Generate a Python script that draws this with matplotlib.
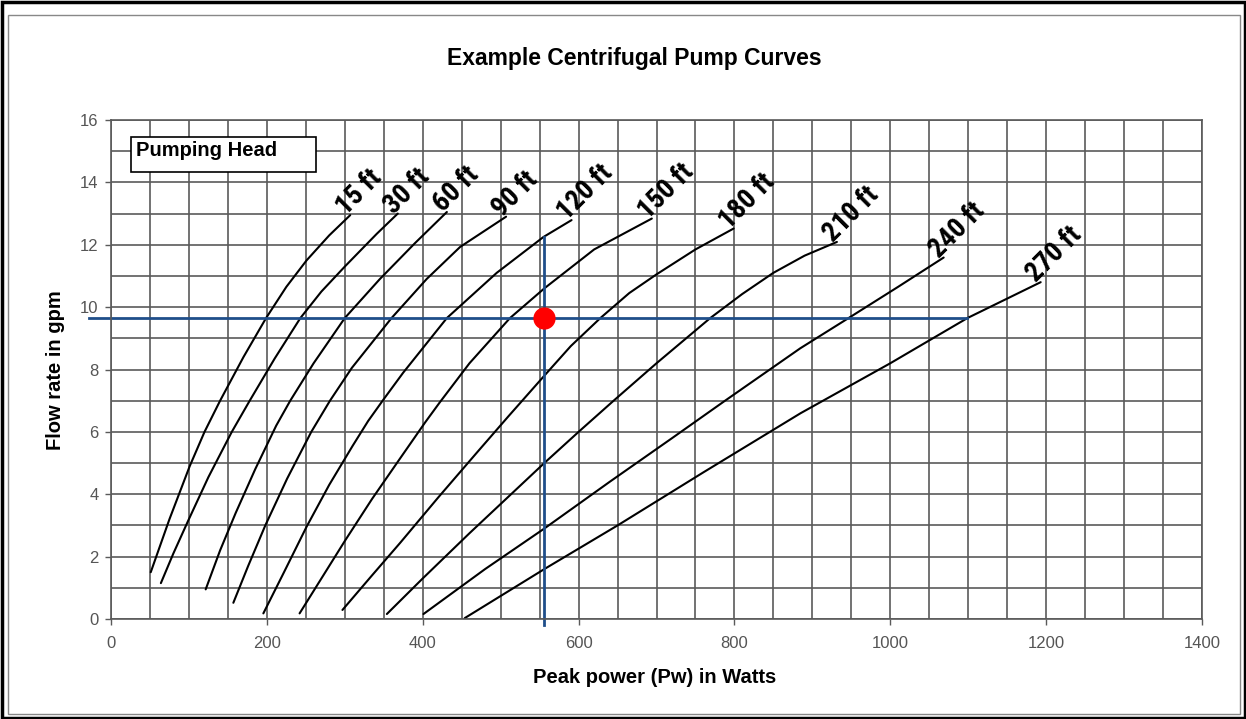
import matplotlib
matplotlib.use('Agg')
import matplotlib.pyplot as plt
from matplotlib.patches import Rectangle
import numpy as np

plt.rcParams['font.family'] = ['Liberation Sans', 'DejaVu Sans']

# pump curves: peak power (W) vs flow rate (gpm), one per pumping head
heads = ['15 ft', '30 ft', '60 ft', '90 ft', '120 ft', '150 ft', '180 ft', '210 ft', '240 ft', '270 ft']

power_15 = [51, 75, 101, 120, 140, 170, 199, 225, 251, 280, 307]
flow_15 = [1.5, 3.2, 4.9, 6.0, 7.0, 8.4, 9.65, 10.65, 11.5, 12.3, 12.95]

power_30 = [64, 80, 99, 125, 155, 178, 210, 243, 270, 300, 341, 368]
flow_30 = [1.15, 2.1, 3.15, 4.55, 6.0, 7.0, 8.35, 9.65, 10.5, 11.3, 12.35, 13.0]

power_60 = [121.5, 140, 160, 185, 212, 230, 260, 300, 345, 390, 431]
flow_60 = [0.95, 2.2, 3.4, 4.8, 6.2, 7.0, 8.2, 9.65, 10.9, 12.05, 13.05]

power_90 = [157, 176, 198, 226, 257, 281, 309, 360, 405, 448, 507]
flow_90 = [0.52, 1.7, 3.0, 4.5, 6.0, 7.0, 8.05, 9.65, 10.9, 11.93, 12.9]

power_120 = [195.5, 222, 251, 280, 310, 330, 350, 375, 431, 495, 555, 591]
flow_120 = [0.18, 1.5, 2.96, 4.3, 5.55, 6.35, 7.05, 7.9, 9.65, 11.1, 12.25, 12.79]

power_150 = [242, 270, 300, 335, 371, 403, 422, 460, 512, 556, 620, 694]
flow_150 = [0.18, 1.3, 2.5, 3.85, 5.15, 6.3, 6.95, 8.2, 9.65, 10.6, 11.85, 12.84]

power_180 = [297, 335, 371, 420, 470, 510, 556, 590, 628, 665, 700, 750, 799]
flow_180 = [0.29, 1.4, 2.44, 3.9, 5.35, 6.5, 7.8, 8.75, 9.65, 10.45, 11.05, 11.85, 12.52]

power_210 = [354, 400, 460, 556, 600, 645, 700, 769, 810, 850, 890, 931.5]
flow_210 = [0.16, 1.3, 2.75, 5.0, 6.0, 7.0, 8.2, 9.65, 10.42, 11.1, 11.65, 12.09]

power_240 = [401, 480, 556, 640, 720, 788, 884.5, 946.5, 1010, 1068.5]
flow_240 = [0.16, 1.6, 2.9, 4.4, 5.8, 7.0, 8.68, 9.65, 10.65, 11.59]

power_270 = [454, 556, 650, 760, 885, 1000, 1099, 1193]
flow_270 = [0.03, 1.6, 3.0, 4.7, 6.6, 8.2, 9.65, 10.8]

curves_x = [power_15, power_30, power_60, power_90, power_120,
            power_150, power_180, power_210, power_240, power_270]
curves_y = [flow_15, flow_30, flow_60, flow_90, flow_120,
            flow_150, flow_180, flow_210, flow_240, flow_270]

# operating point example
op_power = 555
op_flow = 9.65
guide_x = [-28, 1099]
guide_y = [-0.2, 12.25]

xticks = [0, 200, 400, 600, 800, 1000, 1200, 1400]
yticks = [0, 2, 4, 6, 8, 10, 12, 14, 16]

W, H = 1246, 719
fig = plt.figure(figsize=(W / 100, H / 100), dpi=100)
ax = fig.add_axes([111 / W, 1 - 619 / H, (1202 - 111) / W, (619 - 120) / H])

gridc = '#5a5a5a'
ax.set_xlim(0, 1400)
ax.set_ylim(0, 16)
ax.set_xticks(np.arange(0, 1401, 50), minor=True)
ax.set_yticks(np.arange(0, 17, 1), minor=True)
ax.set_xticks(xticks)
ax.set_yticks(yticks)
ax.grid(True, which='both', color=gridc, lw=1.2)
ax.set_axisbelow(True)
ax.tick_params(which='minor', length=0)
ax.tick_params(which='major', length=4, width=1, color=gridc, labelcolor='#555555',
               labelsize=12)
ax.tick_params(axis='x', pad=8)
ax.tick_params(axis='y', pad=5)
for s in ax.spines.values():
    s.set_color(gridc)
    s.set_linewidth(1.2)

for xs, ys, name in zip(curves_x, curves_y, heads):
    ax.plot(xs, ys, color='black', lw=1.5, solid_capstyle='round')
    ax.annotate(name, (xs[-1], ys[-1]), xytext=(0, -4), textcoords='offset points',
                rotation=45, rotation_mode='anchor', ha='left', va='bottom',
                fontsize=20, fontweight='bold', fontstretch='condensed',
                family=['Liberation Sans Narrow', 'Roboto Condensed', 'DejaVu Sans'])

blue = '#1f4e8a'
ax.plot(guide_x, [op_flow, op_flow], color=blue, lw=2, clip_on=False)
ax.plot([op_power, op_power], guide_y, color=blue, lw=2, clip_on=False)
ax.plot([op_power], [op_flow], 'o', color='red', ms=15, zorder=5)

ax.add_patch(Rectangle((25.7 / 1400, 14.33 / 16), (263 - 25.7) / 1400, (15.45 - 14.33) / 16,
                       transform=ax.transAxes, facecolor='white', edgecolor='black',
                       lw=1.2, zorder=4))
ax.text(32 / 1400, 15.02 / 16, 'Pumping Head', transform=ax.transAxes, fontsize=14.5,
        fontweight='bold', va='center', ha='left', zorder=5)

ax.set_xlabel('Peak power (Pw) in Watts', fontsize=14.5, fontweight='bold')
ax.xaxis.set_label_coords(0.4986, -0.098)
ax.set_ylabel('Flow rate in gpm', fontsize=14.5, fontweight='bold')
ax.yaxis.set_label_coords(-0.042, 0.499)
fig.text(634 / W, 1 - 58 / H, 'Example Centrifugal Pump Curves', ha='center', va='center',
         fontsize=16.5, fontweight='bold')

# frames around the chart
fig.add_artist(Rectangle((1.5 / W, 1.5 / H), 1 - 3 / W, 1 - 3 / H, transform=fig.transFigure,
                         fill=False, edgecolor='black', lw=2.5))
fig.add_artist(Rectangle((8 / W, 5 / H), 1 - 14 / W, 1 - 20 / H, transform=fig.transFigure,
                         fill=False, edgecolor='#888888', lw=1))

fig.savefig('out.png', dpi=100)
